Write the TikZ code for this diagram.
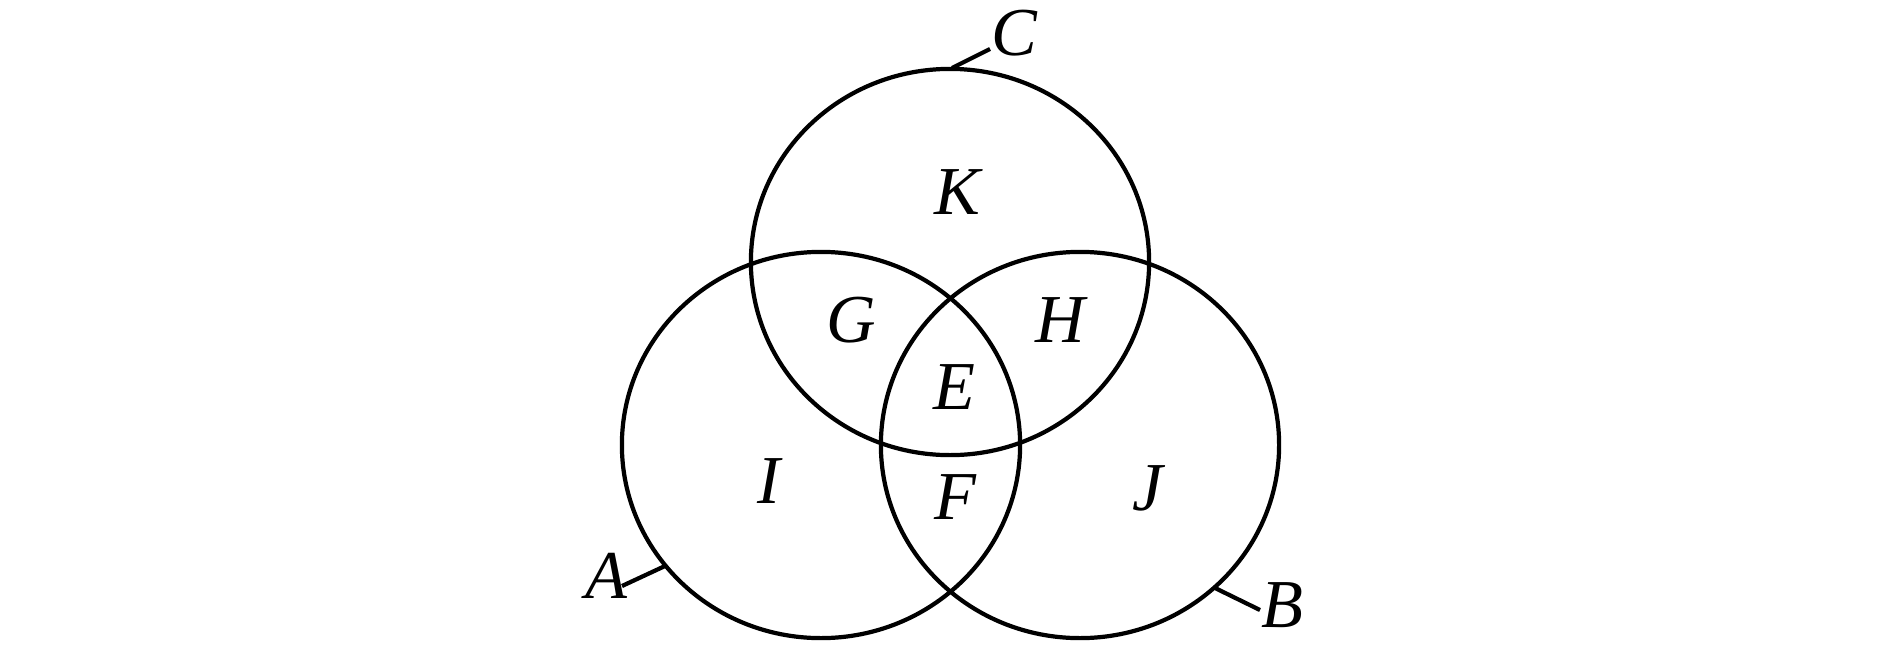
\documentclass[tikz,border=0pt]{standalone}
\usepackage{fontspec}
\setmainfont{Liberation Serif}
\begin{document}
\begin{tikzpicture}[x=0.01cm,y=-0.01cm,
  setring/.style={line width=1.2pt},
  lbl/.style={inner sep=0pt,font=\fontsize{19.5}{22}\selectfont\itshape},
  tick/.style={line width=1.2pt}]
\useasboundingbox (0,0) rectangle (1890,648);
% circles
\coordinate (cA) at (821,445);
\coordinate (cB) at (1080,445);
\coordinate (cC) at (950,262);
\draw[setring] (cA) ellipse [x radius=1.99cm, y radius=1.93cm];
\draw[setring] (cB) ellipse [x radius=1.99cm, y radius=1.93cm];
\draw[setring] (cC) ellipse [x radius=1.99cm, y radius=1.93cm];
% region labels
\node[lbl] (K) at (957,192) {K};
\node[lbl] (G) at (851,320) {G};
\node[lbl] (H) at (1060,320) {H};
\node[lbl] (E) at (954,387) {E};
\node[lbl] (I) at (769,481) {I};
\node[lbl] (F) at (955,497) {F};
\node[lbl] (J) at (1148,488) {J};
% set labels
\node[lbl] (A) at (606,576) {A};
\node[lbl] (B) at (1282,605) {B};
\node[lbl] (C) at (1014,33) {C};
\coordinate (pA) at (665,566);
\coordinate (pB) at (1215,588);
\coordinate (pC) at (952,68);
\coordinate (qA) at (622,586);
\coordinate (qB) at (1260,610);
\coordinate (qC) at (990,49);
\draw[tick] (qA) -- (pA);
\draw[tick] (qB) -- (pB);
\draw[tick] (qC) -- (pC);
\end{tikzpicture}
\end{document}
